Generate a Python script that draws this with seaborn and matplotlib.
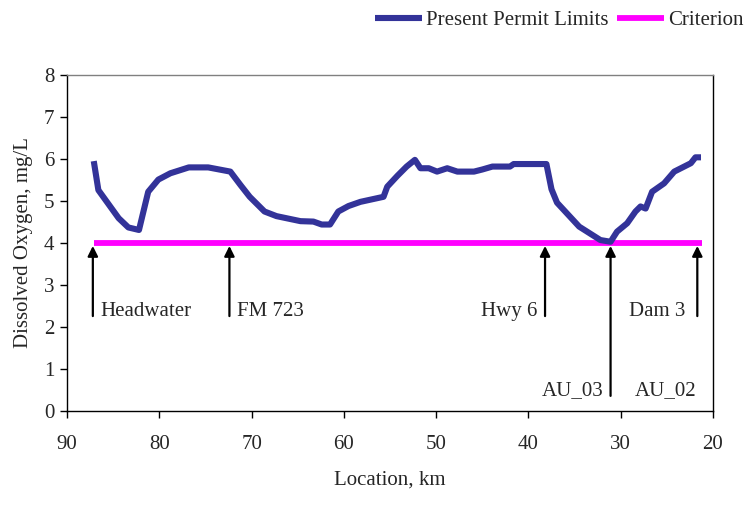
import matplotlib
matplotlib.use("Agg")
import matplotlib.pyplot as plt
import seaborn as sns
import pandas as pd

location_km = [87.1, 86.6, 84.4, 83.35, 82.2, 81.2, 80.1, 78.8, 76.8, 74.7, 72.3, 71.2, 70.2,
               68.6, 67.3, 64.7, 63.3, 62.4, 61.5, 60.6, 59.5, 58.2, 55.7, 55.3, 54.2, 53.2,
               52.3, 51.7, 50.8, 49.9, 48.8, 47.7, 45.9, 45.0, 43.9, 42.0, 41.6, 38.05, 37.5,
               36.9, 34.5, 32.2, 31.1, 30.4, 29.3, 28.4, 27.85, 27.3, 26.6, 25.3, 24.2, 22.4,
               21.9, 21.3]
dissolved_oxygen = [5.95, 5.26, 4.59, 4.37, 4.31, 5.22, 5.51, 5.66, 5.80, 5.80, 5.70, 5.38, 5.10,
                    4.75, 4.64, 4.52, 4.51, 4.44, 4.44, 4.75, 4.88, 4.98, 5.10, 5.34, 5.60, 5.82,
                    5.98, 5.78, 5.78, 5.70, 5.78, 5.70, 5.70, 5.75, 5.82, 5.82, 5.88, 5.88, 5.28,
                    4.96, 4.39, 4.07, 4.03, 4.27, 4.47, 4.75, 4.87, 4.82, 5.22, 5.42, 5.70, 5.90,
                    6.04, 6.04]
criterion_x = [87.1, 21.2]
criterion_y = [4.0, 4.0]

marker_names = ["Headwater", "FM 723", "Hwy 6", "AU_03", "AU_02", "Dam 3"]
marker_x = [87.2, 72.4, 38.2, 31.1, 31.1, 21.7]

sns.set_theme(style="white")
plt.rcParams["font.family"] = ["Liberation Serif", "DejaVu Serif"]

fig = plt.figure(figsize=(7.48, 5.05), dpi=100)
ax = fig.add_axes([67/748, 1 - 411/505, (713-67)/748, (411-75)/505])

df = pd.DataFrame({"Location": location_km, "DO": dissolved_oxygen})
dfc = pd.DataFrame({"Location": criterion_x, "DO": criterion_y})
sns.lineplot(data=dfc, x="Location", y="DO", ax=ax, color="#FF00FF", linewidth=4.2,
             label="Criterion", sort=False, zorder=2, solid_capstyle="butt")
sns.lineplot(data=df, x="Location", y="DO", ax=ax, color="#333399", linewidth=4.4,
             label="Present Permit Limits", sort=False, zorder=3,
             solid_capstyle="butt", solid_joinstyle="round")

# arrows
tails = {"Headwater": 2.26, "FM 723": 2.26, "Hwy 6": 2.26, "AU_03": 0.36, "Dam 3": 2.26}
for name, xv in zip(marker_names, marker_x):
    if name in tails:
        ax.annotate("", xy=(xv, 3.93), xytext=(xv, tails[name]),
                    arrowprops=dict(arrowstyle="-|>", color="black", lw=1.6,
                                    mutation_scale=15, shrinkA=0, shrinkB=0), zorder=4)

fs = 15
ax.text(86.4, 2.38, "Headwater", fontsize=fs, ha="left", va="center")
ax.text(71.6, 2.38, "FM 723", fontsize=fs, ha="left", va="center")
ax.text(39.0, 2.38, "Hwy 6", fontsize=fs, ha="right", va="center")
ax.text(23.0, 2.38, "Dam 3", fontsize=fs, ha="right", va="center")
ax.text(31.9, 0.48, "AU_03", fontsize=fs, ha="right", va="center")
ax.text(28.5, 0.48, "AU_02", fontsize=fs, ha="left", va="center")

ax.set_xlim(90, 20)
ax.set_ylim(0, 8)
ax.set_xticks([90, 80, 70, 60, 50, 40, 30, 20])
ax.set_yticks(range(0, 9))
ax.tick_params(axis="both", labelsize=fs, direction="out", length=5, width=1,
               color="black", bottom=True, left=True, pad=4)
ax.tick_params(axis="x", pad=12)
ax.set_xlabel("Location, km", fontsize=fs, labelpad=12)
ax.set_ylabel("Dissolved Oxygen, mg/L", fontsize=fs, labelpad=8)
for side in ["left", "bottom", "right"]:
    ax.spines[side].set_color("black")
    ax.spines[side].set_linewidth(1)
ax.spines["top"].set_color("#808080")
ax.spines["top"].set_linewidth(1)

handles, labels = ax.get_legend_handles_labels()
order = [labels.index("Present Permit Limits"), labels.index("Criterion")]
leg = ax.legend([handles[i] for i in order], [labels[i] for i in order],
                loc="upper right", bbox_to_anchor=(750/748, 1 - 4/505),
                bbox_transform=fig.transFigure,
                ncol=2, frameon=False, fontsize=fs, handlelength=2.25, handletextpad=0.2,
                columnspacing=0.4, borderaxespad=0.0, borderpad=0.3)
for h in leg.get_lines():
    h.set_solid_capstyle("butt")

fig.savefig("out.png", dpi=100)
